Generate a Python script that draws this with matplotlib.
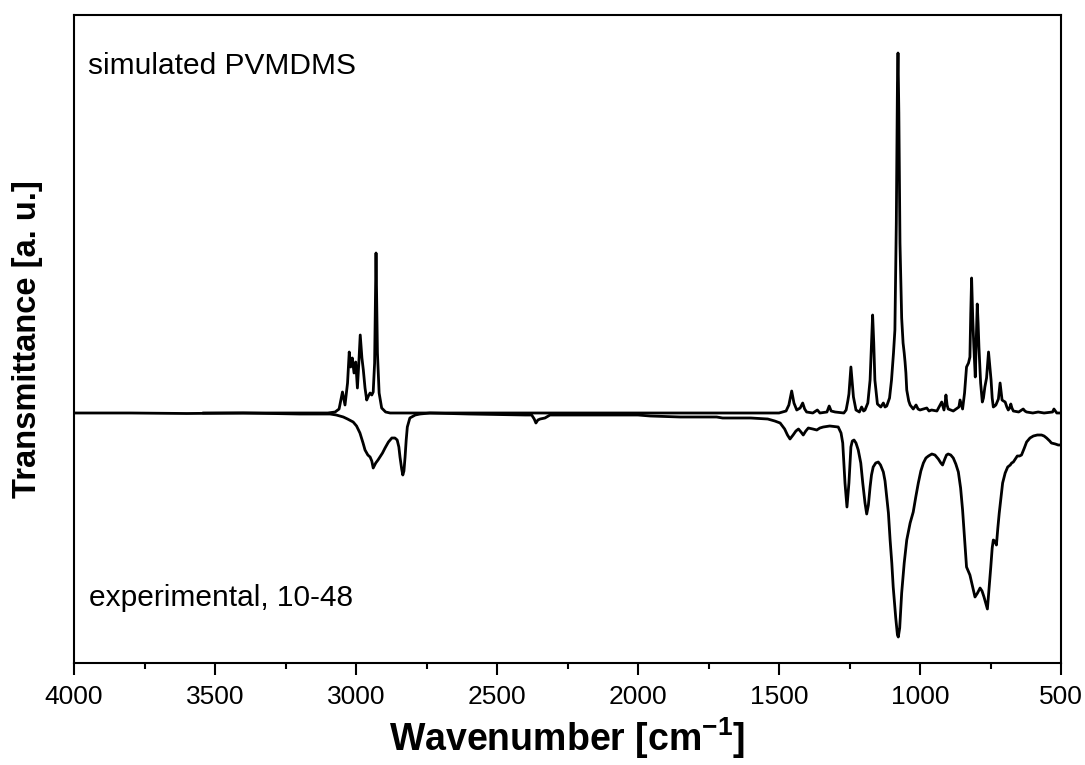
import matplotlib
matplotlib.use("Agg")
import matplotlib.pyplot as plt

plt.rcParams['font.family'] = ['Liberation Sans', 'DejaVu Sans']
plt.rcParams['mathtext.fontset'] = 'custom'
plt.rcParams['mathtext.rm'] = 'Liberation Sans'
plt.rcParams['mathtext.bf'] = 'Liberation Sans:bold'

# spectre simulé (nombre d'onde, intensité en u.a.)
sim_wn = [3540, 3300, 3100, 3074, 3060, 3048, 3039, 3030, 3024, 3019, 3013, 3007, 3001, 2995,
          2990, 2985, 2979, 2974, 2968, 2962, 2956, 2950, 2944, 2939, 2934, 2929, 2924, 2918,
          2909, 2895, 2879, 2500, 2000, 1600, 1500, 1475, 1465, 1455, 1447, 1437, 1425, 1416,
          1409, 1402, 1380, 1364, 1355, 1330, 1322, 1315, 1301, 1270, 1262, 1256, 1252, 1245,
          1240, 1236, 1227, 1215, 1207, 1200, 1195, 1185, 1177, 1172, 1168, 1164, 1160, 1151,
          1139, 1130, 1124, 1118, 1108, 1101, 1094, 1089, 1084, 1080, 1078, 1075, 1071, 1065,
          1060, 1056, 1053, 1050, 1047, 1040, 1035, 1024, 1014, 1007, 1000, 976, 968, 959, 940,
          923, 918, 915, 911, 908, 904, 900, 882, 862, 858, 853, 849, 842, 835, 828, 823, 820,
          817, 813, 809, 804, 800, 797, 794, 791, 785, 779, 775, 770, 764, 760, 757, 753, 748,
          744, 740, 735, 731, 722, 716, 712, 709, 704, 698, 692, 687, 682, 678, 674, 669, 650,
          634, 628, 622, 600, 581, 560, 530, 525, 520, 515, 506]
sim_val = [0, 0, 0, 1, 4, 21, 8, 30, 61, 46, 55, 40, 51, 25,
           50, 78, 55, 43, 25, 13, 17, 20, 18, 21, 50, 160, 60, 20,
           5, 1, 0, 0, 0, 0, 0, 2, 8, 22, 10, 3, 5, 10,
           4, 1, 0, 3, 0, 1, 7, 2, 1, 0, 3, 12, 19, 46,
           30, 16, 3, 1, 6, 2, 3, 10, 33, 70, 98, 70, 33, 9,
           6, 10, 6, 7, 15, 33, 60, 83, 190, 330, 360, 300, 170, 95,
           70, 60, 51, 40, 23, 12, 8, 4, 8, 4, 3, 5, 2, 3, 2,
           11, 6, 3, 10, 18, 8, 4, 2, 6, 13, 8, 4, 20, 46, 50, 56, 100,
           135, 95, 66, 36, 80, 109, 90, 66, 30, 11, 15, 26, 35, 50, 61, 48, 33,
           15, 6, 7, 8, 14, 30, 20, 13, 12, 11, 6, 3, 5, 9, 5, 2, 1,
           4, 2, 1, 0, 1, 0, 1, 4, 2, 0, 0]

# spectre expérimental 10-48
exp_wn = [4000, 3800, 3600, 3400, 3200, 3092, 3070, 3045, 3030, 3010, 2998, 2986, 2975, 2968,
          2958, 2950, 2944, 2939, 2930, 2922, 2915, 2906, 2897, 2885, 2873, 2862, 2854, 2848,
          2844, 2838, 2834, 2830, 2826, 2822, 2818, 2809, 2790, 2773, 2738, 2600, 2400, 2377,
          2368, 2362, 2355, 2347, 2330, 2312, 2200, 2000, 1957, 1850, 1721, 1700, 1600, 1540,
          1515, 1496, 1480, 1470, 1461, 1450, 1440, 1431, 1422, 1414, 1405, 1396, 1380, 1366,
          1355, 1343, 1320, 1290, 1280, 1274, 1266, 1259, 1252, 1245, 1240, 1234, 1227, 1219,
          1210, 1203, 1195, 1189, 1183, 1177, 1172, 1166, 1157, 1148, 1140, 1130, 1124, 1118,
          1112, 1106, 1100, 1095, 1086, 1080, 1077, 1072, 1065, 1056, 1047, 1035, 1024, 1015,
          1006, 997, 988, 979, 970, 958, 947, 935, 926, 920, 912, 906, 900, 891, 882, 873, 864,
          856, 849, 842, 835, 829, 823, 813, 805, 796, 787, 780, 773, 767, 761, 755, 749, 744,
          740, 735, 729, 724, 719, 713, 707, 698, 689, 680, 675, 669, 662, 655, 647, 640, 630,
          622, 610, 598, 584, 569, 560, 551, 540, 534, 520, 510, 500]
exp_val = [0, 0, -0.5, 0, -1, -1, -2, -4, -6, -9, -13, -20, -30, -37,
           -42, -44, -48, -55, -50, -47, -44, -40, -35, -29, -25, -25, -27, -34,
           -44, -56, -62, -58, -44, -27, -14, -5, -2, -1, 0, -1, -2, -2,
           -6, -10, -7, -6, -5, -2, -2, -2, -3, -4, -4, -5, -5, -6,
           -8, -10, -16, -22, -26, -22, -18, -16, -19, -22, -18, -15, -16, -17,
           -15, -14, -13, -14, -20, -30, -70, -94, -70, -34, -28, -27, -30, -37,
           -50, -70, -90, -101, -92, -74, -62, -54, -50, -49, -52, -59, -68, -84,
           -100, -127, -150, -174, -205, -222, -224, -215, -180, -150, -127, -110, -99, -84,
           -70, -58, -50, -45, -43, -41, -42, -46, -50, -52, -46, -42, -41, -42, -45, -51, -59,
           -75, -97, -125, -154, -158, -162, -174, -184, -180, -175, -178, -184, -190, -196, -175, -154, -135,
           -127, -128, -132, -115, -100, -85, -70, -60, -54, -52, -50, -49, -46, -43, -43, -42, -35,
           -29, -25, -23, -22, -22, -23, -25, -28, -30, -31, -32, -32]

fig = plt.figure(figsize=(10.85, 7.65), dpi=100)
ax = fig.add_axes([74 / 1085, 102 / 765, 987 / 1085, 648 / 765])

ax.plot(sim_wn, sim_val, color='black', lw=2.0)
ax.plot(exp_wn, exp_val, color='black', lw=2.0)

ax.set_xlim(4000, 500)
ax.set_ylim(-250, 398)
ax.set_xticks([4000, 3500, 3000, 2500, 2000, 1500, 1000, 500])
ax.set_xticks([3750, 3250, 2750, 2250, 1750, 1250, 750], minor=True)
ax.set_yticks([])
ax.tick_params(axis='x', which='major', direction='out', length=8.5, width=1.5,
               labelsize=19, pad=7)
ax.tick_params(axis='x', which='minor', direction='out', length=4.3, width=1.5)
for s in ax.spines.values():
    s.set_linewidth(1.5)

ax.text(0.014, 0.909, 'simulated PVMDMS', transform=ax.transAxes, fontsize=21.5,
        va='baseline', ha='left')
ax.text(0.0155, 0.088, 'experimental, 10-48', transform=ax.transAxes, fontsize=21.5,
        va='baseline', ha='left')

ax.set_xlabel(r'Wavenumber [cm$^{\mathbf{-1}}$]', fontsize=27, fontweight='bold', labelpad=5)
ax.set_ylabel('Transmittance [a. u.]', fontsize=23.5, fontweight='bold', labelpad=22)

plt.savefig('out.png', dpi=100)
